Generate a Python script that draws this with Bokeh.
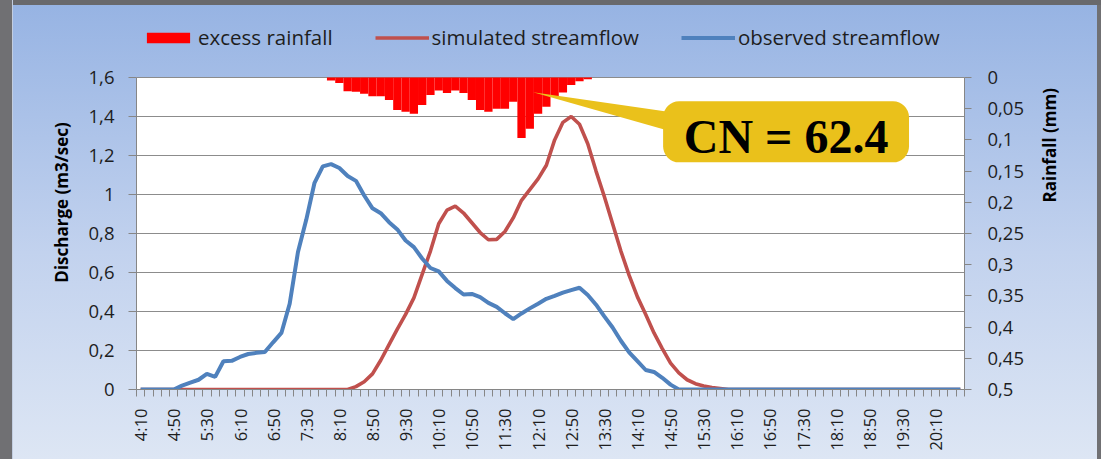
import math
from bokeh.plotting import figure
from bokeh.models import (Range1d, LinearAxis, FixedTicker, CustomJSTickFormatter, Legend, LegendItem,
                          BoxAnnotation, PolyAnnotation, Label, ColumnDataSource)
from bokeh.embed import file_html
from bokeh.resources import INLINE

# ---------------- data ----------------
times = [
    "4:10", "4:20", "4:30", "4:40", "4:50",
    "5:00", "5:10", "5:20", "5:30", "5:40", "5:50",
    "6:00", "6:10", "6:20", "6:30", "6:40", "6:50",
    "7:00", "7:10", "7:20", "7:30", "7:40", "7:50",
    "8:00", "8:10", "8:20", "8:30", "8:40", "8:50",
    "9:00", "9:10", "9:20", "9:30", "9:40", "9:50",
    "10:00", "10:10", "10:20", "10:30", "10:40", "10:50",
    "11:00", "11:10", "11:20", "11:30", "11:40", "11:50",
    "12:00", "12:10", "12:20", "12:30", "12:40", "12:50",
    "13:00", "13:10", "13:20", "13:30", "13:40", "13:50",
    "14:00", "14:10", "14:20", "14:30", "14:40", "14:50",
    "15:00", "15:10", "15:20", "15:30", "15:40", "15:50",
    "16:00", "16:10", "16:20", "16:30", "16:40", "16:50",
    "17:00", "17:10", "17:20", "17:30", "17:40", "17:50",
    "18:00", "18:10", "18:20", "18:30", "18:40", "18:50",
    "19:00", "19:10", "19:20", "19:30", "19:40", "19:50",
    "20:00", "20:10", "20:20", "20:30", "20:40",
]

excess_rainfall = [
    0, 0, 0, 0, 0, 0, 0, 0, 0, 0,
    0, 0, 0, 0, 0, 0, 0, 0, 0, 0,
    0, 0, 0, 0.005, 0.009, 0.022, 0.023, 0.026, 0.030, 0.030,
    0.036, 0.052, 0.055, 0.058, 0.044, 0.028, 0.021, 0.025, 0.021, 0.025,
    0.036, 0.052, 0.055, 0.050, 0.050, 0.039, 0.097, 0.082, 0.058, 0.047,
    0.030, 0.024, 0.012, 0.006, 0.003, 0, 0, 0, 0, 0,
    0, 0, 0, 0, 0, 0, 0, 0, 0, 0,
    0, 0, 0, 0, 0, 0, 0, 0, 0, 0,
    0, 0, 0, 0, 0, 0, 0, 0, 0, 0,
    0, 0, 0, 0, 0, 0, 0, 0, 0, 0,
]

simulated_streamflow = [
    0, 0, 0, 0, 0, 0, 0, 0, 0, 0,
    0, 0, 0, 0, 0, 0, 0, 0, 0, 0,
    0, 0, 0, 0, 0, 0, 0.015, 0.04, 0.08, 0.15,
    0.23, 0.31, 0.385, 0.47, 0.59, 0.71, 0.85, 0.92, 0.94, 0.905,
    0.855, 0.805, 0.768, 0.77, 0.81, 0.88, 0.97, 1.025, 1.08, 1.15,
    1.28, 1.37, 1.40, 1.36, 1.26, 1.12, 0.99, 0.85, 0.71, 0.585,
    0.475, 0.385, 0.29, 0.21, 0.135, 0.085, 0.05, 0.03, 0.018, 0.01,
    0.005, 0, 0, 0, 0, 0, 0, 0, 0, 0,
    0, 0, 0, 0, 0, 0, 0, 0, 0, 0,
    0, 0, 0, 0, 0, 0, 0, 0, 0, 0,
]

observed_streamflow = [
    0, 0, 0, 0, 0, 0.02, 0.035, 0.05, 0.08, 0.065,
    0.145, 0.147, 0.167, 0.182, 0.188, 0.192, 0.242, 0.29, 0.44, 0.705,
    0.87, 1.06, 1.144, 1.156, 1.136, 1.095, 1.07, 0.995, 0.929, 0.904,
    0.858, 0.821, 0.764, 0.73, 0.672, 0.623, 0.606, 0.557, 0.52, 0.487,
    0.49, 0.474, 0.444, 0.424, 0.391, 0.361, 0.39, 0.416, 0.44, 0.465,
    0.48, 0.497, 0.51, 0.522, 0.485, 0.435, 0.375, 0.318, 0.25, 0.19,
    0.145, 0.10, 0.09, 0.06, 0.025, 0, 0, 0, 0, 0,
    0, 0, 0, 0, 0, 0, 0, 0, 0, 0,
    0, 0, 0, 0, 0, 0, 0, 0, 0, 0,
    0, 0, 0, 0, 0, 0, 0, 0, 0, 0,
]

label_every = 4
discharge_ticks = [0, 0.2, 0.4, 0.6, 0.8, 1.0, 1.2, 1.4, 1.6]
rainfall_ticks = [0, 0.05, 0.1, 0.15, 0.2, 0.25, 0.3, 0.35, 0.4, 0.45, 0.5]
cn_text = "CN = 62.4"

# ---------------- layout ----------------
FONT = "Open Sans"
GRAY = "#868686"
TXT = "#1e1e1e"
W, H = 1101, 459
B_LEFT, B_RIGHT, B_TOP, B_BOTTOM = 136, 137, 15, 70
FRAME_H = H - B_TOP - B_BOTTOM          # frame also holds the legend strip
PLOT_H = 312                            # height of the white plotting area (0..1.6)
Q_MAX, R_MAX = 1.6, 0.5
q_top = Q_MAX * FRAME_H / PLOT_H
r_top = -R_MAX * (FRAME_H - PLOT_H) / PLOT_H

idx = list(range(len(times)))
src = ColumnDataSource(dict(i=idx, t=times, rain=excess_rainfall,
                            sim=simulated_streamflow, obs=observed_streamflow))

p = figure(width=W, height=H, x_range=Range1d(-0.5, len(times) - 0.5),
           y_range=Range1d(0, q_top), output_backend="svg", toolbar_location=None,
           min_border_left=B_LEFT, min_border_right=B_RIGHT,
           min_border_top=B_TOP, min_border_bottom=B_BOTTOM)
p.border_fill_color = None
p.background_fill_color = None
p.outline_line_color = None
p.styles = {"background": "linear-gradient(to bottom, #96b3e3 0%, #c2d2ee 55%, #dde6f4 100%)",
            "box-shadow": ("inset 12px 0 0 #707073, inset 13px 0 0 #c2cde0, "
                           "inset 0 5px 0 #69696c, inset -4px 0 0 #707073")}

# white plotting area
p.add_layout(BoxAnnotation(bottom=0, top=Q_MAX, fill_color="white", fill_alpha=1,
                           line_color=None, level="image"))

fmt_code = """
let s = tick.toFixed(digits);
if (s.indexOf('.') >= 0) { s = s.replace(/0+$/, '').replace(/\\.$/, ''); }
return s.replace('.', ',');
"""

# x axis
xt = [k for k in idx if k % label_every == 0]
xa = p.xaxis[0]
xa.ticker = FixedTicker(ticks=xt, minor_ticks=[k - 0.5 for k in range(len(times) + 1)])
xa.major_label_overrides = {k: times[k] for k in xt}
xa.major_label_orientation = math.pi / 2
xa.major_tick_out = 0
xa.major_tick_in = 0
xa.minor_tick_out = 7
xa.minor_tick_in = 0
xa.minor_tick_line_color = GRAY
xa.axis_line_color = GRAY
xa.major_label_standoff = 12
xa.major_label_text_font = FONT
xa.major_label_text_font_size = "16.5px"
xa.major_label_text_color = TXT

# left axis
ya = p.yaxis[0]
ya.bounds = (0, Q_MAX)
ya.ticker = FixedTicker(ticks=discharge_ticks)
ya.formatter = CustomJSTickFormatter(code=fmt_code, args=dict(digits=1))
ya.axis_line_color = GRAY
ya.major_tick_line_color = GRAY
ya.major_tick_out = 8
ya.major_tick_in = 0
ya.minor_tick_out = 0
ya.minor_tick_in = 0
ya.major_label_standoff = 14
ya.major_label_text_font = FONT
ya.major_label_text_font_size = "18.5px"
ya.major_label_text_color = TXT
ya.axis_label = "Discharge (m3/sec)"
ya.axis_label_text_font = FONT
ya.axis_label_text_font_style = "bold"
ya.axis_label_text_font_size = "17px"
ya.axis_label_text_color = "black"
ya.axis_label_standoff = 13

p.ygrid.ticker = FixedTicker(ticks=discharge_ticks)
p.ygrid.grid_line_color = "#8c8c8c"
p.ygrid.grid_line_width = 1
p.xgrid.visible = False

# right axis (reversed rainfall)
p.extra_y_ranges = {"rain": Range1d(start=R_MAX, end=r_top)}
ra = LinearAxis(y_range_name="rain", ticker=FixedTicker(ticks=rainfall_ticks),
                formatter=CustomJSTickFormatter(code=fmt_code, args=dict(digits=2)),
                bounds=(0, R_MAX))
ra.axis_line_color = GRAY
ra.major_tick_line_color = GRAY
ra.major_tick_out = 7
ra.major_tick_in = 0
ra.minor_tick_out = 0
ra.minor_tick_in = 0
ra.major_label_standoff = 16
ra.major_label_text_font = FONT
ra.major_label_text_font_size = "18.5px"
ra.major_label_text_color = TXT
ra.axis_label = "Rainfall (mm)"
ra.axis_label_text_font = FONT
ra.axis_label_text_font_style = "bold"
ra.axis_label_text_font_size = "17px"
ra.axis_label_text_color = "black"
ra.axis_label_standoff = 22
try:
    ra.axis_label_orientation = math.pi / 2
except Exception:
    pass
p.add_layout(ra, "right")

# glyphs
bars = p.vbar(x="i", width=1, top=0, bottom="rain", y_range_name="rain", source=src,
              fill_color="#FF0000", line_color=None)
sim = p.line(x="i", y="sim", source=src, line_color="#C0504D", line_width=3.6)
obs = p.line(x="i", y="obs", source=src, line_color="#4F81BD", line_width=4)

# legend (inside the frame strip above the plotting area)
legend = Legend(items=[LegendItem(label="excess rainfall", renderers=[bars]),
                       LegendItem(label="simulated streamflow", renderers=[sim]),
                       LegendItem(label="observed streamflow", renderers=[obs])],
                orientation="horizontal", location=(5, FRAME_H - 36),
                label_text_font=FONT, label_text_font_size="20.5px", label_text_color=TXT,
                glyph_width=54, glyph_height=13, label_standoff=3, spacing=42,
                padding=0, margin=0, background_fill_alpha=0, border_line_alpha=0)
p.add_layout(legend)

# callout
CALL_COLOR = "#EAC11B"
p.add_layout(PolyAnnotation(xs=[47.4, 66.0, 66.0], ys=[1.525, 1.41, 1.30],
                            fill_color=CALL_COLOR, fill_alpha=1, line_color=None))
p.add_layout(BoxAnnotation(left=63.1, right=92.8, bottom=1.165, top=1.478,
                           fill_color=CALL_COLOR, fill_alpha=1, line_color=None,
                           border_radius=16))
p.add_layout(Label(x=77.95, y=1.30, text=cn_text, text_align="center", text_baseline="middle",
                   text_font="Liberation Serif", text_font_style="bold",
                   text_font_size="48px", text_color="black"))

open("out.html", "w").write(file_html(p, INLINE))
